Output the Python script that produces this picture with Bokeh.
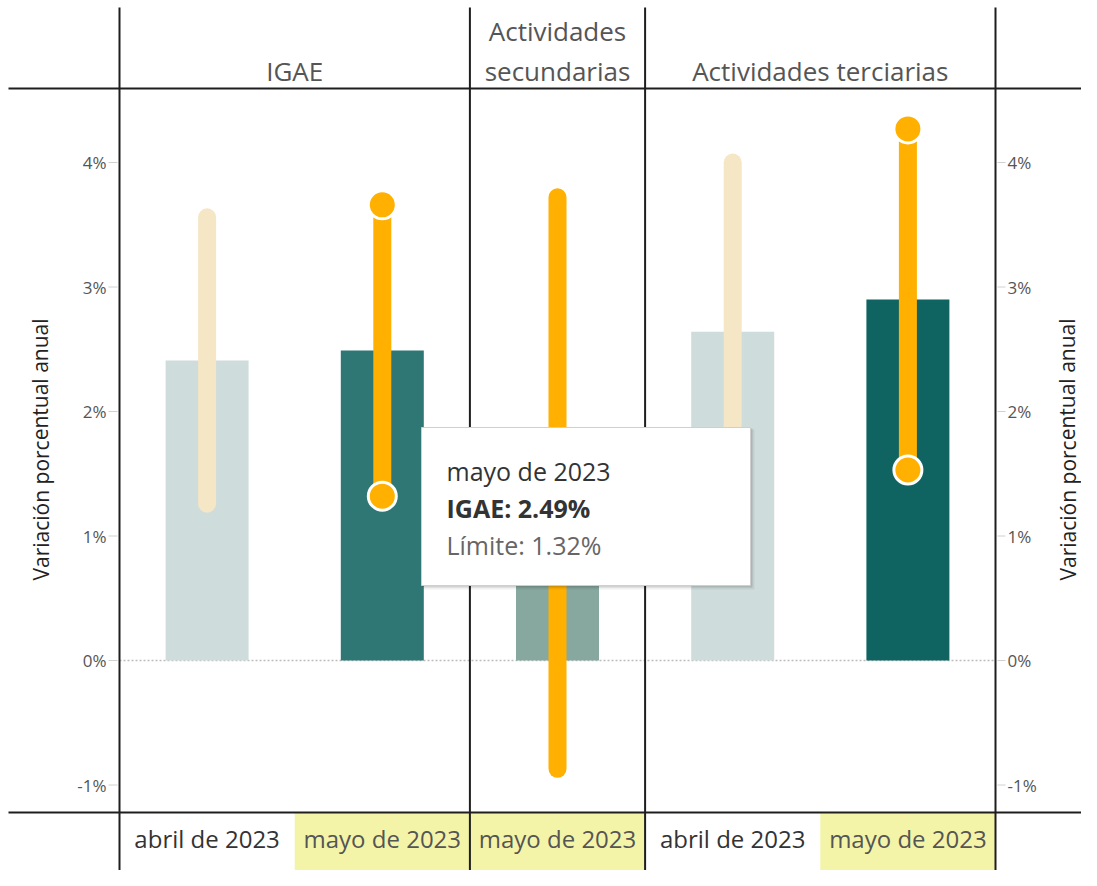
from bokeh.plotting import figure
from bokeh.models import Range1d
from bokeh.core.properties import value
from bokeh.embed import file_html
from bokeh.resources import INLINE

# ---------------- data ----------------
group_headers = [["IGAE"], ["Actividades", "secundarias"], ["Actividades terciarias"]]
group_spans = [2, 1, 2]                       # columns per group
months = ["abril de 2023", "mayo de 2023", "mayo de 2023", "abril de 2023", "mayo de 2023"]
current = [False, True, True, False, True]    # highlighted (latest) columns
estimate = [2.41, 2.49, 1.43, 2.64, 2.90]     # bar values (%)
lower = [1.26, 1.32, -0.87, 1.28, 1.53]       # interval lower limit (%)
upper = [3.56, 3.66, 3.72, 4.00, 4.27]        # interval upper limit (%)
show_dots = [False, True, False, False, True]
bar_colors = ["#cfdcdc", "#2e7775", "#86a89f", "#cfdcdc", "#0f6462"]
y_ticks = [-1, 0, 1, 2, 3, 4]
y_tick_labels = ["-1%", "0%", "1%", "2%", "3%", "4%"]
axis_title = "Variación porcentual anual"
tip_col = 1

# ---------------- layout helpers (page pixels -> data units) ----------------
W, H = 1081, 870
PX_COL = 175.2
PX_PCT = 124.5
def X(px):
    return (px - 119) / PX_COL
def Y(py):
    return (660 - py) / PX_PCT

FONT = value("Open Sans")
ORANGE = "#ffb000"
BEIGE = "#f5e6c5"
GRID = "#1e1e1e"

p = figure(width=W, height=H,
           x_range=Range1d(X(0), X(W)), y_range=Range1d(Y(H), Y(0)),
           output_backend="svg", toolbar_location=None,
           x_axis_location=None, y_axis_location=None,
           min_border=0, outline_line_color=None,
           background_fill_color="white", border_fill_color="white")
for g in p.grid:
    g.visible = False

ncol = len(months)
centers = [i + 0.5 for i in range(ncol)]
bounds = [0]
for s in group_spans:
    bounds.append(bounds[-1] + s)

# footer highlight cells
hl_left = [i for i in range(ncol) if current[i]]
hl_right = [i + 1 for i in range(ncol) if current[i]]
p.quad(left=hl_left, right=hl_right, top=Y(812), bottom=Y(H + 5),
       fill_color="#f4f4a8", line_color=None)

# zero line
p.segment(x0=[0], y0=[0], x1=[ncol], y1=[0], line_color="#bdbdbd",
          line_width=1.5, line_dash="2 2")

# bars
p.vbar(x=centers, width=83 / PX_COL, top=estimate, bottom=0,
       fill_color=bar_colors, line_color=None)

# interval lines
line_colors = [ORANGE if c else BEIGE for c in current]
p.segment(x0=centers, y0=lower, x1=centers, y1=upper, line_color=line_colors,
          line_width=18, line_cap="round")

# dots
dx, dy = [], []
for i in range(ncol):
    if show_dots[i]:
        dx += [centers[i], centers[i]]
        dy += [lower[i], upper[i]]
p.scatter(x=dx, y=dy, size=28, fill_color=ORANGE, line_color="white", line_width=3)

# table lines
p.segment(x0=bounds, y0=[Y(H + 5)] * len(bounds), x1=bounds, y1=[Y(7)] * len(bounds),
          line_color=GRID, line_width=2)
p.segment(x0=[X(8), X(8)], y0=[Y(88), Y(812)], x1=[X(W + 5), X(W + 5)], y1=[Y(88), Y(812)],
          line_color=GRID, line_width=2)

# tick marks
p.segment(x0=[X(108)] * len(y_ticks), y0=y_ticks, x1=[X(117)] * len(y_ticks), y1=y_ticks,
          line_color="#d0d0d0", line_width=1)
p.segment(x0=[X(997)] * len(y_ticks), y0=y_ticks, x1=[X(1005)] * len(y_ticks), y1=y_ticks,
          line_color="#d0d0d0", line_width=1)

# tick labels
p.text(x=[X(106)] * len(y_ticks), y=y_ticks, text=y_tick_labels, text_font=FONT,
       text_font_size="17px", text_color="#555555", text_align="right", text_baseline="middle")
p.text(x=[X(1007)] * len(y_ticks), y=y_ticks, text=y_tick_labels, text_font=FONT,
       text_font_size="17px", text_color="#555555", text_align="left", text_baseline="middle")

# axis titles
p.text(x=[X(40), X(1067)], y=[Y(449), Y(449)], text=[axis_title, axis_title], angle=1.5708,
       text_font=FONT, text_font_size="21px", text_color="#222222",
       text_align="center", text_baseline="middle")

# headers
hx, hy, ht = [], [], []
for gi, lines in enumerate(group_headers):
    cxh = (bounds[gi] + bounds[gi + 1]) / 2
    n = len(lines)
    for li, t in enumerate(lines):
        hx.append(cxh)
        hy.append(Y(70 - 40 * (n - 1 - li)))
        ht.append(t)
p.text(x=hx, y=hy, text=ht, text_font=FONT, text_font_size="26px", text_color="#555555",
       text_align="center", text_baseline="middle")

# footer labels
p.text(x=centers, y=[Y(838)] * ncol, text=months, text_font=FONT, text_font_size="24px",
       text_color=["#555555" if c else "#333333" for c in current],
       text_align="center", text_baseline="middle")

# tooltip
p.quad(left=[X(423), X(422)], right=[X(754), X(752)], top=[Y(429), Y(428)],
       bottom=[Y(589), Y(587)], fill_color="#000000", fill_alpha=[0.06, 0.12], line_color=None)
p.quad(left=[X(421)], right=[X(750)], top=[Y(427)], bottom=[Y(585)],
       fill_color="white", line_color="#cfcfcf", line_width=1)
tip_text = [months[tip_col], f"IGAE: {estimate[tip_col]:.2f}%", f"Límite: {lower[tip_col]:.2f}%"]
p.text(x=[X(446)], y=[Y(470)], text=[tip_text[0]], text_font=FONT, text_font_size="25px",
       text_color="#333333", text_baseline="middle")
p.text(x=[X(446)], y=[Y(507)], text=[tip_text[1]], text_font=FONT, text_font_size="25px",
       text_color="#333333", text_font_style="bold", text_baseline="middle")
p.text(x=[X(446)], y=[Y(544)], text=[tip_text[2]], text_font=FONT, text_font_size="25px",
       text_color="#666666", text_baseline="middle")

open("out.html", "w").write(file_html(p, INLINE))
